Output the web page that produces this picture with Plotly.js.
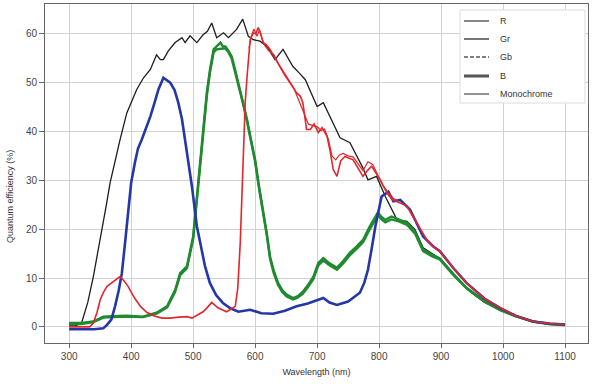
<!DOCTYPE html>
<html>
<head>
<meta charset="utf-8">
<script src="https://cdn.plot.ly/plotly-3.0.1.min.js"></script>
<style>html,body{margin:0;padding:0;background:#fff;}#chart{width:596px;height:384px;}</style>
</head>
<body>
<div id="chart"></div>
<script>
// Wavelength (nm) and quantum efficiency (%)
const monoNm = [300,310,320,330,339,346,353,360,366,374,382,393,400,409,420,431,441,447,452,460,471,482,487,495,506,516,523,530,538,549,557,570,580,589,597,608,619,632,645,661,671,681,690,700,710,721,737,753,764,774,782,796,810,829,845,858,871,885,898,920,947,970,995,1020,1048,1075,1100];
const monoQE = [0.2,0.2,0.8,5,10.3,15,20.5,25,29.5,34,38.3,43.8,46,48.6,51,52.7,55.7,54.7,54.7,56.5,58.2,59.2,58.2,59.6,58.2,59.8,60.5,62.2,59.2,60.2,59.2,60.9,63,59.5,58.8,58.5,57.4,54.7,56.8,53.3,52,50.6,48,45.1,45.9,43,38.7,37.7,34.9,32.5,30.1,30.8,26.7,21.9,21.6,19.9,16.2,15,14,10.8,7.2,5,3.5,2.2,1.1,0.6,0.4];

const bNm = [300,320,340,355,361,368,374,380,385,390,395,400,406,411,417,424,431,438,444,452,458,463,470,476,482,487,493,498,506,511,519,527,537,548,560,573,592,610,629,648,667,685,702,710,720,732,750,769,776,782,788,794,804,815,823,834,850,871,887,898,920,941,970,995,1020,1048,1075,1100];
const bQE  = [-0.5,-0.5,-0.5,-0.3,0.4,1.5,4.2,7.5,11,17,24,29.5,33.6,36.5,38.3,40.5,43.1,46,48.6,51,50.5,50,48.5,45.9,42.5,38.3,33.5,28.8,20.6,17.2,12.5,9,6.5,4.9,3.8,3.1,3.5,2.8,2.7,3.3,4.2,4.8,5.5,5.9,5,4.5,5.2,7,9,11.7,16,20.6,26.7,27.7,25.7,26,24,18.5,16.5,15.5,12,9,5.8,3.9,2.3,1.1,0.7,0.5];

const rNm = [300,320,333,339,345,350,355,361,371,382,388,395,405,415,425,436,450,463,477,490,498,508,516,523,530,540,554,568,572,576,579,581,584,587,590,592,597,601,605,609,613,618,624,632,640,648,656,667,673,677,683,689,695,702,708,716,721,726,732,738,745,752,758,766,774,781,788,795,802,808,815,822,829,837,845,853,861,869,877,887,898,920,941,970,995,1020,1048,1075,1100];
const rQE  = [0,0,0,0.8,3,5.5,7,8.3,9.3,10.3,9.5,8.3,6,4.2,3,2.3,1.8,1.8,2,2.1,1.8,2.5,3.1,4,5,3.9,3.1,4.2,8,17.2,28,37.7,46,51.3,56,58.8,60.2,60,61.3,60,58.2,57.8,56.8,55,53.3,51.5,50,47.9,47.2,45.9,40.4,40.4,41.5,39.8,40.8,39,36,32.2,30.8,34,34.9,34.5,34.2,32.5,30.8,32,32.9,31.5,30.1,28.5,27,26,25.7,25.2,24.7,23,21.3,19.5,17.8,16.5,15.5,12,9,5.8,3.9,2.3,1.1,0.7,0.5];
// second red sample strand (where it separates from the first)
const r2Nm = [590,594,598,603,607,611,616,622,630,638,646,654,662,670,678,686,694,700,706,712,718,724,730,736,742,750,758,766,774,782,790,798,806,814,822,830];
const r2QE = [57,59.5,61,59.5,60.8,59,57.5,56.5,55.8,53.8,52.2,50.5,49,46.5,44,41.5,41.2,41,40.2,40.5,38.5,35,34.2,35.2,35.5,35,34.8,33.5,32,33.8,33.2,31,29,27.6,26.4,25.8];

const grNm = [300,320,339,355,370,393,419,441,458,471,479,490,500,505,511,516,522,527,533,538,544,548,552,557,562,567,573,580,587,593,600,606,613,619,624,630,637,644,651,661,669,677,685,694,702,710,720,732,742,753,764,774,785,798,804,810,820,832,845,858,871,885,898,920,941,970,995,1020,1048,1075,1100];
const grQE = [0.8,0.8,1.1,2.1,2.2,2.3,2.1,2.9,4.2,7.6,11,12.4,18.5,25,32,40,47.9,52.5,56.8,57.5,58.2,57.4,57.4,56.5,55.4,53,50,46.5,42.4,38.5,34.2,29,24,19,14.4,11.5,9,7.5,6.6,5.9,6.3,7.2,8.5,10.3,13.1,14.1,13,12.1,13.5,15.2,16.5,17.8,20.6,23.4,22.5,21.9,22.6,22,21.3,19.5,15.8,14.8,14,10.8,8,5.3,3.5,2.2,1.1,0.6,0.4];
const gbQE = [0.6,0.6,1.0,1.9,2.0,2.1,2.0,2.7,4.0,7.2,10.6,12.0,18.0,24.5,31.5,39.5,47.2,52.0,56.2,56.8,57.0,57.0,57.0,56.2,55.0,52.6,49.6,46.0,42.0,38.0,33.8,28.6,23.6,18.6,14.0,11.0,8.6,7.1,6.2,5.6,6.0,6.8,8.1,9.8,12.6,13.6,12.6,11.7,13.0,14.7,16.0,17.3,20.0,22.8,22.0,21.4,22.0,21.6,20.9,19.1,15.5,14.5,13.8,10.6,7.9,5.2,3.4,2.2,1.1,0.6,0.4];

const legendNames = ['R','Gr','Gb','B','Monochrome'];
const xTicks = [300,400,500,600,700,800,900,1000,1100];
const yTicks = [0,10,20,30,40,50,60];

const RED = '#e3262b', GREEN = '#1f8a2f', BLUE = '#2437a6', BLACK = '#1e1e1e';

const traces = [
  {x: monoNm, y: monoQE, mode:'lines', line:{color:BLACK, width:1.3}},
  {x: grNm, y: grQE, mode:'lines', line:{color:GREEN, width:2.4}},
  {x: grNm, y: gbQE, mode:'lines', line:{color:GREEN, width:2.4}},
  {x: bNm, y: bQE, mode:'lines', line:{color:BLUE, width:2.6}},
  {x: rNm, y: rQE, mode:'lines', line:{color:RED, width:1.6}},
  {x: r2Nm, y: r2QE, mode:'lines', line:{color:RED, width:1.2}},
];

// Hand-placed legend (grey samples, as in the reference), in paper coordinates
const plotL = 45, plotR = 588, plotT = 4, plotB = 343;
const px = v => (v - plotL) / (plotR - plotL);
const py = v => (plotB - v) / (plotB - plotT);
const legRowsPx = [21, 39, 57, 76, 94];
const legStyles = [
  {color:'#555', width:1.4},
  {color:'#555', width:1.6},
  {color:'#555', width:1.5, dash:'4px,2px'},
  {color:'#555', width:3},
  {color:'#555', width:1.3},
];
const shapes = [{type:'rect', xref:'paper', yref:'paper', x0:px(460), x1:px(585), y0:py(103), y1:py(10),
                 line:{color:'#dcdcdc', width:1}, fillcolor:'#fff', layer:'above'}];
const annotations = [{text:'Quantum efficiency (%)', xref:'paper', yref:'paper', x:px(10), y:py(197), showarrow:false,
                textangle:-90, font:{size:9, color:'#333'}, xanchor:'center', yanchor:'middle'}];
legendNames.forEach((n,i) => {
  shapes.push({type:'line', xref:'paper', yref:'paper', x0:px(464), x1:px(489), y0:py(legRowsPx[i]), y1:py(legRowsPx[i]),
               line:legStyles[i], layer:'above'});
  annotations.push({text:n, xref:'paper', yref:'paper', x:px(498), y:py(legRowsPx[i]), xanchor:'left', yanchor:'middle',
               showarrow:false, font:{size:9, color:'#333'}});
});

const layout = {
  width:596, height:384,
  margin:{l:plotL, r:596-plotR, t:plotT, b:384-plotB},
  paper_bgcolor:'#fff', plot_bgcolor:'#fff',
  font:{family:'Liberation Sans, Arial, sans-serif', size:10, color:'#444'},
  showlegend:false,
  xaxis:{range:[261,1137], tickvals:xTicks, ticktext:xTicks.map(String), showgrid:true, gridcolor:'#d2d2d2', gridwidth:1,
         showline:true, linecolor:'#666', linewidth:1, mirror:true, ticks:'outside', ticklen:4, tickcolor:'#666',
         zeroline:false, tickfont:{size:10, color:'#444'},
         title:{text:'Wavelength (nm)', font:{size:9, color:'#333'}, standoff:7}},
  yaxis:{range:[-3.3,66.1], tickvals:yTicks, ticktext:yTicks.map(String), showgrid:true, gridcolor:'#d2d2d2', gridwidth:1,
         showline:true, linecolor:'#666', linewidth:1, mirror:true, ticks:'outside', ticklen:5, tickcolor:'#666',
         zeroline:false, tickfont:{size:10, color:'#444'}},
  shapes: shapes,
  annotations: annotations
};
Plotly.newPlot('chart', traces, layout, {displayModeBar:false, staticPlot:true});
</script>
</body>
</html>
